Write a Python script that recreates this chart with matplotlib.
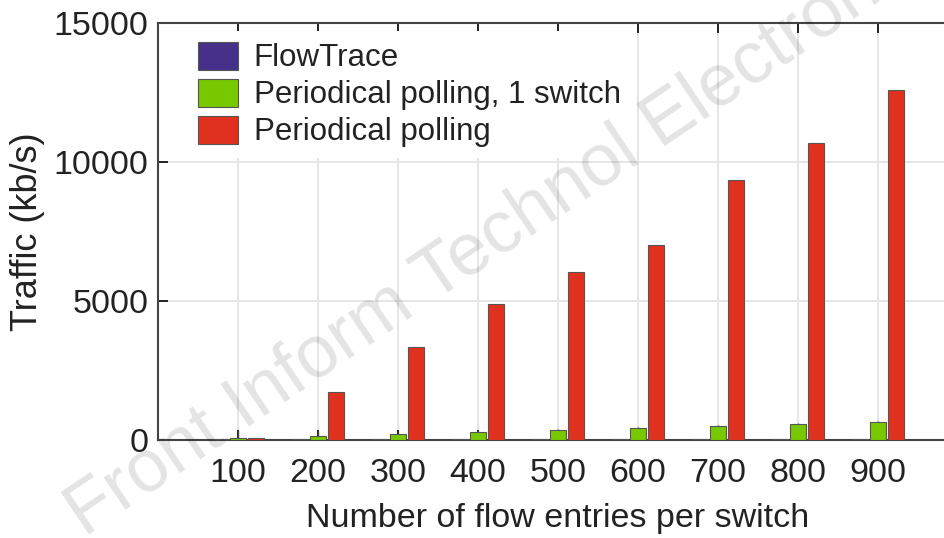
import numpy as np
import matplotlib.pyplot as plt

# Data
entries = [100, 200, 300, 400, 500, 600, 700, 800, 900]
flowtrace = [20, 20, 20, 20, 20, 20, 20, 20, 20]
poll_one = [70, 145, 215, 290, 360, 430, 505, 580, 650]
poll_one_err = [280, 180, 70, 30, 20, 20, 20, 20, 20]
poll_all = [60, 1730, 3350, 4890, 6040, 7010, 9350, 10680, 12590]
labels = ['FlowTrace', 'Periodical polling, 1 switch', 'Periodical polling']
colors = ['#46308a', '#78c800', '#e0301e']

plt.rcParams['font.family'] = ['Liberation Sans', 'DejaVu Sans']

fig = plt.figure(figsize=(9.45, 5.38), dpi=100)
ax = fig.add_axes([0.1672, 0.1822, 0.8466, 0.775])

x = np.array(entries)
w = 19
for off, vals, c, lab in zip([-22.5, 0, 22.5], [flowtrace, poll_one, poll_all], colors, labels):
    ax.bar(x + off, vals, width=w, color=c, edgecolor='#555555', linewidth=0.8, label=lab, zorder=3)
ax.errorbar(x, poll_one, yerr=[np.zeros(len(x)), poll_one_err], fmt='none', ecolor='#444444',
            elinewidth=1, capsize=0, zorder=4)

ax.set_xlim(0, 1000)
ax.set_ylim(0, 15000)
ax.set_xticks(entries)
ax.set_yticks([0, 5000, 10000, 15000])
ax.set_yticklabels(['0', '5000', '10000', '15000'])
ax.tick_params(direction='in', top=True, right=True, labelsize=24.5, length=7, width=1.2,
               pad=7, labelcolor='#222222')
ax.tick_params(axis='x', pad=13)
ax.grid(True, color='#e6e6e6', linewidth=1.4, zorder=0)
for s in ax.spines.values():
    s.set_linewidth(1.5)
    s.set_color('#444444')

ax.set_xlabel('Number of flow entries per switch', fontsize=24.5, labelpad=10, color='#222222')
ax.set_ylabel('Traffic (kb/s)', fontsize=26, labelpad=6, color='#222222')

leg = ax.legend(loc='upper left', fontsize=22.5, frameon=True, framealpha=1, edgecolor='white',
                handlelength=1.28, handleheight=1.0, handletextpad=0.5, borderpad=0.35,
                borderaxespad=0.25, labelspacing=0.17, bbox_to_anchor=(0.0265, 1.0))
leg.get_frame().set_linewidth(0)
for t in leg.get_texts():
    t.set_color('#222222')

# watermark
fig.text(0.09, 0.0, 'Front Inform Technol Electron Eng', fontsize=53, color='#000000',
         alpha=0.11, rotation=34, ha='left', va='baseline', rotation_mode='anchor')

fig.savefig('out.png', dpi=100)
